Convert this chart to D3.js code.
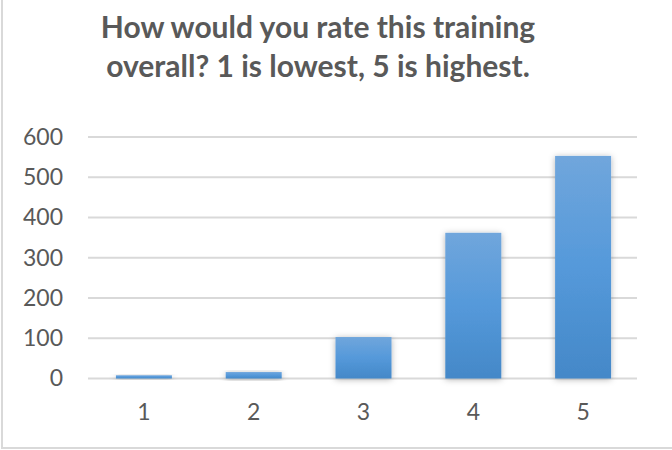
<!DOCTYPE html>
<html><head><meta charset="utf-8">
<script src="https://cdn.jsdelivr.net/npm/d3@7"></script>
<style>body{margin:0;background:#fff}svg{display:block}</style>
</head><body>
<script>
const categories = ["1","2","3","4","5"];
const values = [8, 16, 103, 362, 553];
const yTicks = [0,100,200,300,400,500,600];
const titleLines = ["How would you rate this training","overall? 1 is lowest, 5 is highest."];

const W = 672, H = 450;
const svg = d3.select("body").append("svg").attr("width", W).attr("height", H);
const defs = svg.append("defs");
const grad = defs.append("linearGradient").attr("id","barGrad").attr("x1",0).attr("y1",0).attr("x2",0).attr("y2",1);
grad.append("stop").attr("offset","0%").attr("stop-color","#70a6dc");
grad.append("stop").attr("offset","50%").attr("stop-color","#5599da");
grad.append("stop").attr("offset","100%").attr("stop-color","#4488c8");
const f = defs.append("filter").attr("id","shadow").attr("x","-30%").attr("y","-30%").attr("width","160%").attr("height","160%");
f.append("feDropShadow").attr("dx",0).attr("dy",1).attr("stdDeviation",3).attr("flood-color","#000").attr("flood-opacity",0.3);

svg.append("rect").attr("width",W).attr("height",H).attr("fill","#fff");
// chart border (left + bottom)
svg.append("line").attr("x1",2).attr("x2",2).attr("y1",0).attr("y2",449).attr("stroke","#d9d9d9").attr("stroke-width",2);
svg.append("line").attr("x1",1).attr("x2",W).attr("y1",448).attr("y2",448).attr("stroke","#d9d9d9").attr("stroke-width",2);

const x = d3.scaleBand().domain(categories).range([89, 638]).paddingInner(0.49).paddingOuter(0.245);
const y = d3.scaleLinear().domain([0,600]).range([378.5, 137]);

// gridlines
svg.append("g").selectAll("line").data(yTicks).join("line")
  .attr("x1",88).attr("x2",637).attr("y1",d=>y(d)).attr("y2",d=>y(d))
  .attr("stroke","#d9d9d9").attr("stroke-width",2);

// y axis labels
const yAxis = d3.axisLeft(y).tickValues(yTicks).tickSize(0).tickPadding(0);
const gy = svg.append("g").attr("transform","translate(63,0)").call(yAxis);
gy.select(".domain").remove();
gy.selectAll("text").attr("font-family","Lato, 'Open Sans', sans-serif").attr("font-size",23).attr("fill","#595959");

// bars
svg.append("g").selectAll("rect").data(values).join("rect")
  .attr("x",(d,i)=>x(categories[i])).attr("width",x.bandwidth())
  .attr("y",d=>y(d)).attr("height",d=>y(0)-y(d))
  .attr("fill","url(#barGrad)").attr("filter","url(#shadow)");

// x axis labels
const xAxis = d3.axisBottom(x).tickSize(0).tickPadding(0);
const gx = svg.append("g").attr("transform","translate(0,404)").call(xAxis);
gx.select(".domain").remove();
gx.selectAll("text").attr("font-family","Lato, 'Open Sans', sans-serif").attr("font-size",23).attr("fill","#595959");

// title
svg.append("g").selectAll("text").data(titleLines).join("text")
  .attr("x",318).attr("y",(d,i)=>38+i*39).attr("text-anchor","middle")
  .attr("font-family","Lato, 'Open Sans', sans-serif").attr("font-weight","bold").attr("font-size",30)
  .attr("fill","#595959").text(d=>d);
</script>
</body></html>
